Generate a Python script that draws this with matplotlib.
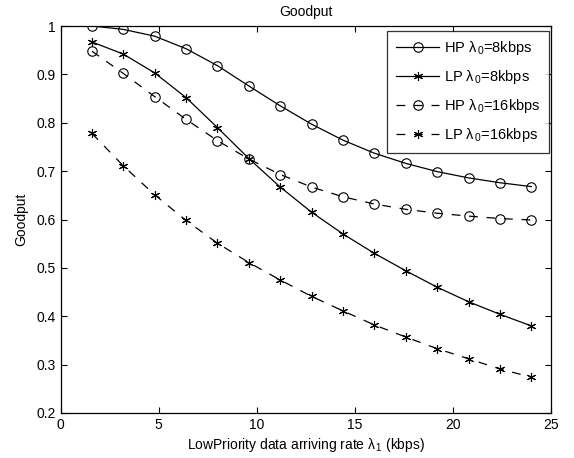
import matplotlib
matplotlib.use("Agg")
import matplotlib.pyplot as plt

plt.rcParams['font.family'] = ['Liberation Sans', 'DejaVu Sans']
plt.rcParams['mathtext.fontset'] = 'custom'
plt.rcParams['mathtext.rm'] = 'Liberation Sans'
plt.rcParams['mathtext.it'] = 'Liberation Sans'

rate = [1.6, 3.2, 4.8, 6.4, 8.0, 9.6, 11.2, 12.8, 14.4, 16.0, 17.6, 19.2, 20.8, 22.4, 24.0]
hp8 = [1.0, 0.993, 0.979, 0.953, 0.918, 0.876, 0.835, 0.797, 0.764, 0.737, 0.716, 0.699, 0.686, 0.676, 0.668]
lp8 = [0.967, 0.942, 0.903, 0.852, 0.790, 0.726, 0.667, 0.615, 0.570, 0.530, 0.494, 0.460, 0.430, 0.404, 0.380]
hp16 = [0.948, 0.902, 0.854, 0.807, 0.763, 0.725, 0.693, 0.667, 0.647, 0.632, 0.621, 0.613, 0.607, 0.602, 0.599]
lp16 = [0.778, 0.711, 0.651, 0.598, 0.551, 0.511, 0.475, 0.441, 0.411, 0.382, 0.357, 0.333, 0.312, 0.291, 0.274]

labels = [r'HP $\lambda_{\,0}$=8kbps', r'LP $\lambda_{\,0}$=8kbps',
          r'HP $\lambda_{\,0}$=16kbps', r'LP $\lambda_{\,0}$=16kbps']

fig = plt.figure(figsize=(5.74, 4.58), dpi=100)
ax = fig.add_axes([60.5/574, 1-413/458, (551-60.5)/574, (413-26)/458])

mk = dict(color='black', lw=0.9, markerfacecolor='none', markeredgewidth=0.8)
ax.plot(rate, hp8, '-', marker='o', markersize=6.8, label=labels[0], **mk)
ax.plot(rate, lp8, '-', marker=(6, 2, 0), markersize=6.5, label=labels[1], **mk)
ax.plot(rate, hp16, '--', marker='o', markersize=6.8, dashes=(7, 7), label=labels[2], **mk)
ax.plot(rate, lp16, '--', marker=(6, 2, 0), markersize=6.5, dashes=(7, 7), label=labels[3], **mk)

ax.set_xlim(0, 25)
ax.set_ylim(0.2, 1.0)
ax.set_xticks([0, 5, 10, 15, 20, 25])
ax.set_yticks([0.2, 0.3, 0.4, 0.5, 0.6, 0.7, 0.8, 0.9, 1.0])
ax.set_yticklabels(['0.2', '0.3', '0.4', '0.5', '0.6', '0.7', '0.8', '0.9', '1'])
ax.tick_params(direction='in', top=True, right=True, labelsize=10, length=4, width=0.8)
for s in ax.spines.values():
    s.set_linewidth(0.9)

ax.set_title('Goodput', fontsize=10, pad=7)
ax.set_xlabel(r'LowPriority data arriving rate $\lambda_{\,1}$ (kbps)', fontsize=10, labelpad=3)
ax.set_ylabel('Goodput', fontsize=10, labelpad=6)

leg = ax.legend(loc='upper right', bbox_to_anchor=(1 - 2/490.5, 1 - 4.5/387),
                fontsize=10.5, frameon=True, fancybox=False, edgecolor='black',
                handlelength=3.0, numpoints=1, borderpad=0.6, labelspacing=0.75,
                handletextpad=0.3, borderaxespad=0)
leg.get_frame().set_linewidth(0.9)

fig.savefig('out.png', dpi=100)
